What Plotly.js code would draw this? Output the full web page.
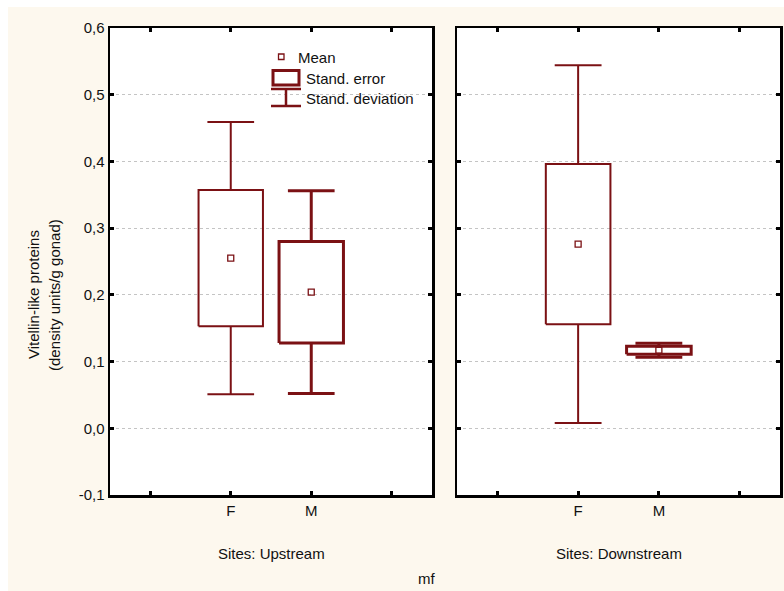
<!DOCTYPE html>
<html>
<head>
<meta charset="utf-8">
<script src="https://cdn.plot.ly/plotly-3.0.1.min.js"></script>
<style>html,body{margin:0;padding:0;background:#fff;}#chart{width:784px;height:591px;}</style>
</head>
<body>
<div id="chart"></div>
<script>
// ---- data ----
const sexes = ['F', 'M'];
const sites = ['Upstream', 'Downstream'];
const upMean = [0.255, 0.204];
const upSE = [0.102, 0.076];
const upSD = [0.204, 0.152];
const downMean = [0.276, 0.117];
const downSE = [0.120, 0.006];
const downSD = [0.268, 0.0105];
const yTickVals = [-0.1, 0, 0.1, 0.2, 0.3, 0.4, 0.5, 0.6];
const yTickLabels = ['-0,1', '0,0', '0,1', '0,2', '0,3', '0,4', '0,5', '0,6'];
const xTickVals = [-1, 0, 1, 2];
const xTickLabels = ['', 'F', 'M', ''];

// ---- style ----
const RED = '#7b1114';
const CREAM = '#fdf8ee';
const BOX_HALF = 0.4, CAP_HALF = 0.29;
const lineW = [2, 3];
const W = 784, H = 591, ML = 110, MR = 4, MT = 28, MB = 96;
const PW = W - ML - MR, PH = H - MT - MB;
const px = v => (v - ML) / PW;
const py = v => (H - MB - v) / PH;

const traces = [];
function addGroup(means, ses, sds, xa, ya) {
  sexes.forEach((s, i) => {
    const c = i; // category index
    const m = means[i], se = ses[i], sd = sds[i];
    const lw = lineW[i];
    // SE box
    traces.push({type: 'scatter', mode: 'lines', xaxis: xa, yaxis: ya, showlegend: false, hoverinfo: 'skip',
      x: [c - BOX_HALF, c + BOX_HALF, c + BOX_HALF, c - BOX_HALF, c - BOX_HALF],
      y: [m - se, m - se, m + se, m + se, m - se],
      line: {color: RED, width: lw}});
    // SD whiskers + caps
    traces.push({type: 'scatter', mode: 'lines', xaxis: xa, yaxis: ya, showlegend: false, hoverinfo: 'skip',
      x: [c, c, null, c - CAP_HALF, c + CAP_HALF, null, c, c, null, c - CAP_HALF, c + CAP_HALF],
      y: [m + se, m + sd, null, m + sd, m + sd, null, m - se, m - sd, null, m - sd, m - sd],
      line: {color: RED, width: lw}});
    // mean
    traces.push({type: 'scatter', mode: 'markers', xaxis: xa, yaxis: ya, showlegend: false,
      x: [c], y: [m],
      marker: {symbol: 'square-open', size: 6, color: RED, line: {width: 1.3, color: RED}}});
  });
}
addGroup(upMean, upSE, upSD, 'x', 'y');
addGroup(downMean, downSE, downSD, 'x2', 'y2');

const FONT = 'Liberation Sans, Arial, sans-serif';
const xCommon = {
  range: [-1.5, 2.5], tickvals: xTickVals, ticktext: xTickLabels,
  ticks: 'inside', ticklen: 4, tickwidth: 3, tickcolor: '#000',
  showline: true, linecolor: '#000', linewidth: 2.5, mirror: 'ticks',
  showgrid: false, zeroline: false,
  tickfont: {family: FONT, size: 15, color: '#111'}, fixedrange: true
};
const yCommon = {
  range: [-0.1, 0.6], tickvals: yTickVals, ticktext: yTickLabels,
  ticks: 'inside', ticklen: 4, tickwidth: 3, tickcolor: '#000',
  showline: true, linecolor: '#000', linewidth: 2.5, mirror: 'ticks',
  showgrid: true, gridcolor: '#c4c4c4', griddash: 'dot', gridwidth: 1, zeroline: false,
  tickfont: {family: FONT, size: 15, color: '#111'}, fixedrange: true
};
const dom1 = [0, px(432)], dom2 = [px(457), 1];

const shapes = [
  // white outer strips
  {type: 'rect', xref: 'paper', yref: 'paper', x0: px(0), x1: px(784), y0: py(7), y1: py(-5), fillcolor: '#fff', line: {width: 0}, layer: 'below'},
  {type: 'rect', xref: 'paper', yref: 'paper', x0: px(-5), x1: px(8), y0: py(600), y1: py(-5), fillcolor: '#fff', line: {width: 0}, layer: 'below'},
  // legend icons
  {type: 'rect', xref: 'paper', yref: 'paper', x0: px(278.5), x1: px(284), y0: py(59.5), y1: py(54), line: {color: RED, width: 1.3}},
  {type: 'rect', xref: 'paper', yref: 'paper', x0: px(273), x1: px(299), y0: py(85), y1: py(70.5), line: {color: RED, width: 3}},
  {type: 'line', xref: 'paper', yref: 'paper', x0: px(271), x1: px(301), y0: py(89), y1: py(89), line: {color: RED, width: 2.5}},
  {type: 'line', xref: 'paper', yref: 'paper', x0: px(286), x1: px(286), y0: py(89), y1: py(106), line: {color: RED, width: 2.5}},
  {type: 'line', xref: 'paper', yref: 'paper', x0: px(271), x1: px(301), y0: py(106), y1: py(106), line: {color: RED, width: 2.5}}
];

const annFont = {family: FONT, size: 15, color: '#111'};
const legFont = {family: FONT, size: 15, color: '#111'};
const annotations = [
  {xref: 'paper', yref: 'paper', x: px(296), y: py(57), xanchor: 'left', yanchor: 'middle', text: 'Mean', showarrow: false, font: legFont},
  {xref: 'paper', yref: 'paper', x: px(304), y: py(78), xanchor: 'left', yanchor: 'middle', text: 'Stand. error', showarrow: false, font: legFont},
  {xref: 'paper', yref: 'paper', x: px(304), y: py(98), xanchor: 'left', yanchor: 'middle', text: 'Stand. deviation', showarrow: false, font: legFont},
  {xref: 'paper', yref: 'paper', x: (dom1[0] + dom1[1]) / 2, y: py(553), xanchor: 'center', yanchor: 'middle', text: 'Sites: ' + sites[0], showarrow: false, font: annFont},
  {xref: 'paper', yref: 'paper', x: (dom2[0] + dom2[1]) / 2, y: py(553), xanchor: 'center', yanchor: 'middle', text: 'Sites: ' + sites[1], showarrow: false, font: annFont},
  {xref: 'paper', yref: 'paper', x: px(426), y: py(578), xanchor: 'center', yanchor: 'middle', text: 'mf', showarrow: false, font: annFont},
  {xref: 'paper', yref: 'paper', x: px(33), y: py(295), xanchor: 'center', yanchor: 'middle', textangle: -90, text: 'Vitellin-like proteins', showarrow: false, font: annFont},
  {xref: 'paper', yref: 'paper', x: px(54), y: py(295), xanchor: 'center', yanchor: 'middle', textangle: -90, text: '(density units/g gonad)', showarrow: false, font: annFont}
];

const layout = {
  width: W, height: H,
  margin: {l: ML, r: MR, t: MT, b: MB},
  paper_bgcolor: CREAM, plot_bgcolor: '#ffffff',
  separators: ',.',
  showlegend: false,
  xaxis: Object.assign({}, xCommon, {domain: dom1, anchor: 'y'}),
  yaxis: Object.assign({}, yCommon, {anchor: 'x'}),
  xaxis2: Object.assign({}, xCommon, {domain: dom2, anchor: 'y2'}),
  yaxis2: Object.assign({}, yCommon, {anchor: 'x2', showticklabels: false}),
  shapes: shapes,
  annotations: annotations
};

Plotly.newPlot('chart', traces, layout, {displayModeBar: false, staticPlot: true});
</script>
</body>
</html>
